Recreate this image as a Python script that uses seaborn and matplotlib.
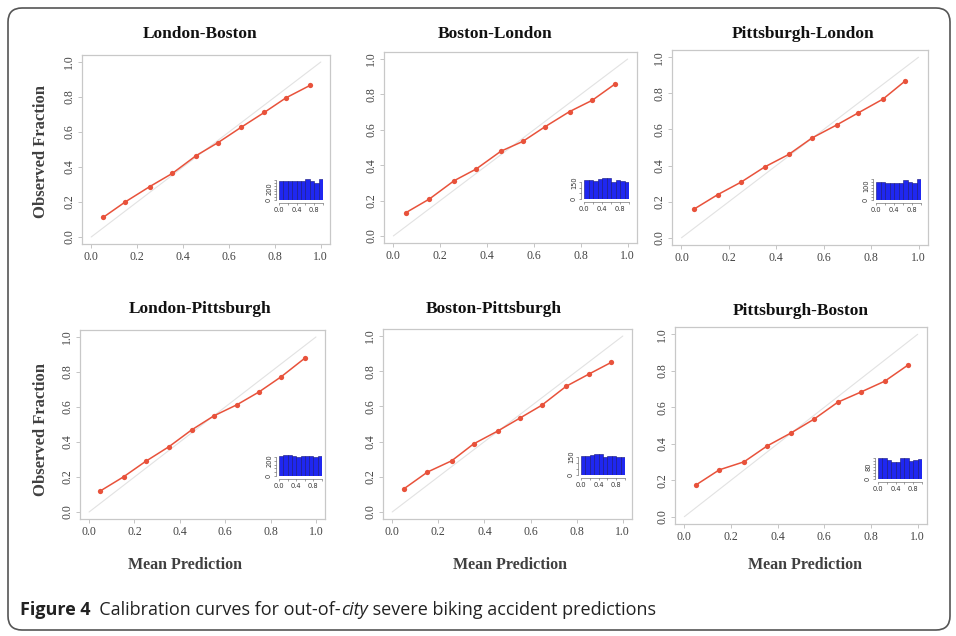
import numpy as np
import pandas as pd
import matplotlib
matplotlib.use("Agg")
import matplotlib.pyplot as plt
import seaborn as sns
from matplotlib.patches import FancyBboxPatch

# --- data ---
titles = ["London-Boston", "Boston-London", "Pittsburgh-London",
          "London-Pittsburgh", "Boston-Pittsburgh", "Pittsburgh-Boston"]

pred_lon_bos = [0.052, 0.149, 0.255, 0.354, 0.457, 0.552, 0.652, 0.754, 0.848, 0.954]
obs_lon_bos = [0.112, 0.201, 0.288, 0.364, 0.465, 0.539, 0.626, 0.712, 0.795, 0.867]
hist_lon_bos = [330, 332, 331, 333, 330, 334, 368, 328, 303, 362]

pred_bos_lon = [0.054, 0.154, 0.259, 0.353, 0.459, 0.552, 0.647, 0.752, 0.849, 0.944]
obs_bos_lon = [0.132, 0.209, 0.312, 0.378, 0.479, 0.534, 0.617, 0.703, 0.767, 0.857]
hist_bos_lon = [168, 168, 166, 178, 186, 190, 152, 174, 162, 155]

pred_pit_lon = [0.052, 0.153, 0.251, 0.352, 0.453, 0.551, 0.655, 0.746, 0.850, 0.945]
obs_pit_lon = [0.158, 0.239, 0.308, 0.393, 0.462, 0.553, 0.625, 0.692, 0.768, 0.870]
hist_pit_lon = [122, 124, 116, 116, 118, 113, 136, 120, 116, 142]

pred_lon_pit = [0.048, 0.152, 0.249, 0.353, 0.452, 0.551, 0.652, 0.749, 0.848, 0.951]
obs_lon_pit = [0.119, 0.201, 0.289, 0.374, 0.469, 0.550, 0.613, 0.686, 0.774, 0.879]
hist_lon_pit = [261, 278, 278, 270, 252, 265, 265, 261, 252, 261]

pred_bos_pit = [0.049, 0.153, 0.258, 0.353, 0.459, 0.553, 0.648, 0.754, 0.852, 0.951]
obs_bos_pit = [0.130, 0.227, 0.291, 0.387, 0.461, 0.533, 0.606, 0.714, 0.783, 0.851]
hist_bos_pit = [156, 158, 167, 175, 175, 147, 161, 156, 147, 147]

pred_pit_bos = [0.051, 0.150, 0.256, 0.355, 0.457, 0.556, 0.658, 0.756, 0.859, 0.957]
obs_pit_bos = [0.175, 0.257, 0.301, 0.388, 0.459, 0.535, 0.628, 0.683, 0.743, 0.830]
hist_pit_bos = [142, 139, 126, 114, 114, 142, 142, 121, 126, 135]

hist_edges = [0.0, 0.1, 0.2, 0.3, 0.4, 0.5, 0.6, 0.7, 0.8, 0.9, 1.0]
main_ticks = [0.0, 0.2, 0.4, 0.6, 0.8, 1.0]

# (title, pred, obs, hist, hist tick step, labelled hist ticks)
panels = [
    (titles[0], pred_lon_bos, obs_lon_bos, hist_lon_bos, 50, [0, 200]),
    (titles[1], pred_bos_lon, obs_bos_lon, hist_bos_lon, 50, [0, 150]),
    (titles[2], pred_pit_lon, obs_pit_lon, hist_pit_lon, 20, [0, 100]),
    (titles[3], pred_lon_pit, obs_lon_pit, hist_lon_pit, 50, [0, 200]),
    (titles[4], pred_bos_pit, obs_bos_pit, hist_bos_pit, 50, [0, 150]),
    (titles[5], pred_pit_bos, obs_pit_bos, hist_pit_bos, 20, [0, 80]),
]

# --- layout in pixels ---
W, H = 956, 636
boxes = [(82, 55, 330, 244), (384, 52, 637, 243), (672, 50, 928, 245),
         (80, 330, 325, 519), (383, 329, 632, 519), (675, 327, 927, 524)]
insets = [(279, 200, 44), (584, 199, 45), (876, 200, 45),
          (279, 476, 43), (581, 475, 44), (878, 479, 44)]
title_pos = [(200, 34), (495, 34), (803, 34), (200, 309), (494, 309), (801, 311)]

RED = "#e8523b"
SERIF = ["Liberation Serif", "DejaVu Serif"]

sns.set_style("white")
plt.rcParams["font.family"] = ["DejaVu Sans"]

fig = plt.figure(figsize=(W / 100, H / 100), dpi=100)


def px_axes(l, t, r, b):
    return fig.add_axes([l / W, 1 - b / H, (r - l) / W, (b - t) / H])


for i, (title, pred, obs, hist, step, shown) in enumerate(panels):
    l, t, r, b = boxes[i]
    ax = px_axes(l, t, r, b)
    ax.plot([0, 1], [0, 1], color="#e2e2e2", lw=0.8, zorder=1)
    sns.lineplot(x=pred, y=obs, ax=ax, color=RED, lw=1.1, marker="o",
                 markersize=3.8, markeredgewidth=0, zorder=3)
    ax.set_xlim(-0.04, 1.04)
    ax.set_ylim(-0.04, 1.04)
    ax.set_xticks(main_ticks)
    ax.set_yticks(main_ticks)
    ax.set_xticklabels([f"{v:.1f}" for v in main_ticks], family=SERIF,
                       fontsize=8.5, color="#444444")
    ax.set_yticklabels([f"{v:.1f}" for v in main_ticks], family=SERIF,
                       fontsize=8.5, color="#444444", rotation=90, va="center")
    ax.tick_params(length=3, width=0.6, color="#bbbbbb", pad=2,
                   bottom=True, left=True)
    for sp in ax.spines.values():
        sp.set_color("#c8c8c8")
        sp.set_linewidth(0.9)
    ax.set_xlabel("")
    ax.set_ylabel("")
    tx, ty = title_pos[i]
    fig.text(tx / W, 1 - ty / H, title, ha="center", va="center",
             family=SERIF, fontsize=12.5, weight="bold", color="#111111")

    # inset histogram of predictions
    x0, yb, w = insets[i]
    top = max(hist) * 1.04
    hh = 21 * 1.04
    iax = fig.add_axes([x0 / W, 1 - yb / H, w / W, hh / H])
    mids = [(hist_edges[k] + hist_edges[k + 1]) / 2 for k in range(10)]
    sns.histplot(x=mids, weights=hist, bins=hist_edges, ax=iax,
                 color="#1f27f0", edgecolor="#15157a", linewidth=0.4, alpha=1)
    iax.set_facecolor("none")
    iax.set_xlabel("")
    iax.set_ylabel("")
    # spine positions first: set_position resets the ticks
    for side in ["top", "right"]:
        iax.spines[side].set_visible(False)
    for side in ["left", "bottom"]:
        iax.spines[side].set_color("#555555")
        iax.spines[side].set_linewidth(0.4)
        iax.spines[side].set_position(("outward", 2))
    iax.set_xlim(0, 1)
    iax.set_ylim(0, top)
    yt = list(range(0, int(top) + 1, step))
    iax.set_yticks(yt)
    iax.set_yticklabels([str(v) if v in shown else "" for v in yt])
    iax.set_xticks([0, 0.2, 0.4, 0.6, 0.8, 1.0])
    iax.set_xticklabels(["0.0", "", "0.4", "", "0.8", ""])
    iax.tick_params(length=1.5, width=0.4, color="#555555", pad=1.5,
                    labelsize=4.8, labelcolor="#333333",
                    bottom=True, left=True)
    iax.tick_params(axis="y", labelrotation=90)
    for lab in iax.get_yticklabels():
        lab.set_va("center")
    iax.spines["bottom"].set_bounds(0, 1)
    iax.spines["left"].set_bounds(0, yt[-1])

# axis titles
for yy in [152, 430]:
    fig.text(41 / W, 1 - yy / H, "Observed Fraction", rotation=90,
             ha="center", va="center", family=SERIF, fontsize=12,
             weight="bold", color="#404040")
for xx in [185, 510, 805]:
    fig.text(xx / W, 1 - 565 / H, "Mean Prediction", ha="center",
             va="center", family=SERIF, fontsize=11.5, weight="bold",
             color="#404040")

# caption
fig.canvas.draw()
renderer = fig.canvas.get_renderer()
cap_y = 1 - 610 / H
pieces = [("Figure 4", "bold", "normal"),
          ("  Calibration curves for out-of-", "normal", "normal"),
          ("city", "normal", "italic"),
          (" severe biking accident predictions", "normal", "normal")]
cx = 20
for txt, wt, st in pieces:
    tt = fig.text(cx / W, cap_y, txt, ha="left", va="center",
                  family=["Open Sans", "DejaVu Sans"], fontsize=13,
                  weight=wt, style=st, color="#222222")
    cx += tt.get_window_extent(renderer).width

# outer frame
frame = FancyBboxPatch((8 / 100, 6 / 100), (942) / 100, (622) / 100,
                       boxstyle="round,pad=0,rounding_size=0.14",
                       transform=fig.dpi_scale_trans, fill=False,
                       edgecolor="#555555", linewidth=1.2)
fig.patches.append(frame)

fig.savefig("out.png", dpi=100)
